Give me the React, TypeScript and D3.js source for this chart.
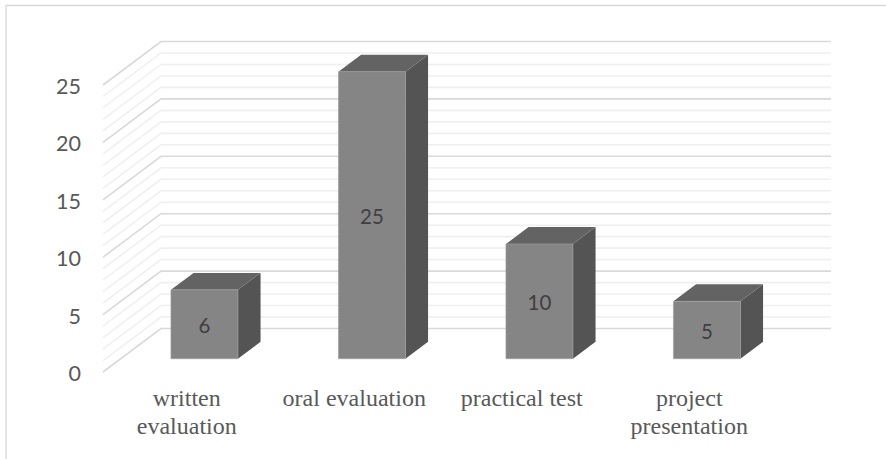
import * as d3 from 'd3'

const categories = [['written', 'evaluation'], ['oral evaluation'], ['practical test'], ['project', 'presentation']]
const values = [6, 25, 10, 5]
const majorTicks = [0, 5, 10, 15, 20, 25]
const allTicks = d3.range(0, 26)

const width = 886
const height = 459
const depth = { x: 58, y: -43.5 }
const barDepth = [0.305, 0.695]

const x = d3
  .scaleBand<number>()
  .domain(d3.range(categories.length))
  .range([103, 773])
  .paddingInner(0.6)
  .paddingOuter(0.3)
const y = d3.scaleLinear().domain([0, 25]).range([372, 85])

// point on the chart's floor/wall box: d = 0 front, d = 1 back wall
const px = (vx: number, d: number) => vx + depth.x * d
const py = (v: number, d: number) => y(v) + depth.y * d
const poly = (pts: [number, number][]) => d3.line()(pts) + 'Z'

const sans = 'Lato, "Open Sans", sans-serif'
const serif = '"Liberation Serif", serif'

export default function App() {
  const [d0, d1] = barDepth
  return (
    <svg width={width} height={height} style={{ position: 'absolute', left: 0, top: 0 }}>
      <path d={`M6 459V5.5H886`} fill="none" stroke="#d9d9d9" strokeWidth={1.3} />

      <g fill="none" strokeWidth={1.6}>
        {allTicks.map((t) => {
          const line = d3.line()([
            [px(x.range()[0], 0), py(t, 0)],
            [px(x.range()[0], 1), py(t, 1)],
            [px(x.range()[1], 1), py(t, 1)],
          ]) as string
          return <path key={t} d={line} stroke={t % 5 === 0 ? '#d9d9d9' : '#f0f0f0'} />
        })}
      </g>

      {majorTicks.map((t) => (
        <text key={t} x={81} y={y(t)} dy="0.42em" textAnchor="end" fontFamily={sans} fontSize={21.5} fill="#595959">
          {t}
        </text>
      ))}

      {values.map((v, i) => {
        const l = x(i) as number
        const r = l + x.bandwidth()
        return (
          <g key={i}>
            <path
              d={poly([
                [px(r, d0), py(0, d0)],
                [px(r, d1), py(0, d1)],
                [px(r, d1), py(v, d1)],
                [px(r, d0), py(v, d0)],
              ])}
              fill="#545454"
            />
            <path
              d={poly([
                [px(l, d0), py(v, d0)],
                [px(r, d0), py(v, d0)],
                [px(r, d1), py(v, d1)],
                [px(l, d1), py(v, d1)],
              ])}
              fill="#636363"
            />
            <path
              d={poly([
                [px(l, d0), py(0, d0)],
                [px(r, d0), py(0, d0)],
                [px(r, d0), py(v, d0)],
                [px(l, d0), py(v, d0)],
              ])}
              fill="#858585"
              stroke="#a0a0a0"
              strokeWidth={0.6}
            />
            <text
              x={px(l + x.bandwidth() / 2, d0)}
              y={(py(0, d0) + py(v, d0)) / 2}
              dy="0.42em"
              textAnchor="middle"
              fontFamily={sans}
              fontSize={20.5}
              fill="#404040"
            >
              {v}
            </text>
          </g>
        )
      })}

      {categories.map((lines, i) => (
        <text key={i} y={406} textAnchor="middle" fontFamily={serif} fontSize={24} fill="#595959">
          {lines.map((s, j) => (
            <tspan key={j} x={(x(i) as number) + x.bandwidth() / 2} dy={j ? 28 : 0}>
              {s}
            </tspan>
          ))}
        </text>
      ))}
    </svg>
  )
}
